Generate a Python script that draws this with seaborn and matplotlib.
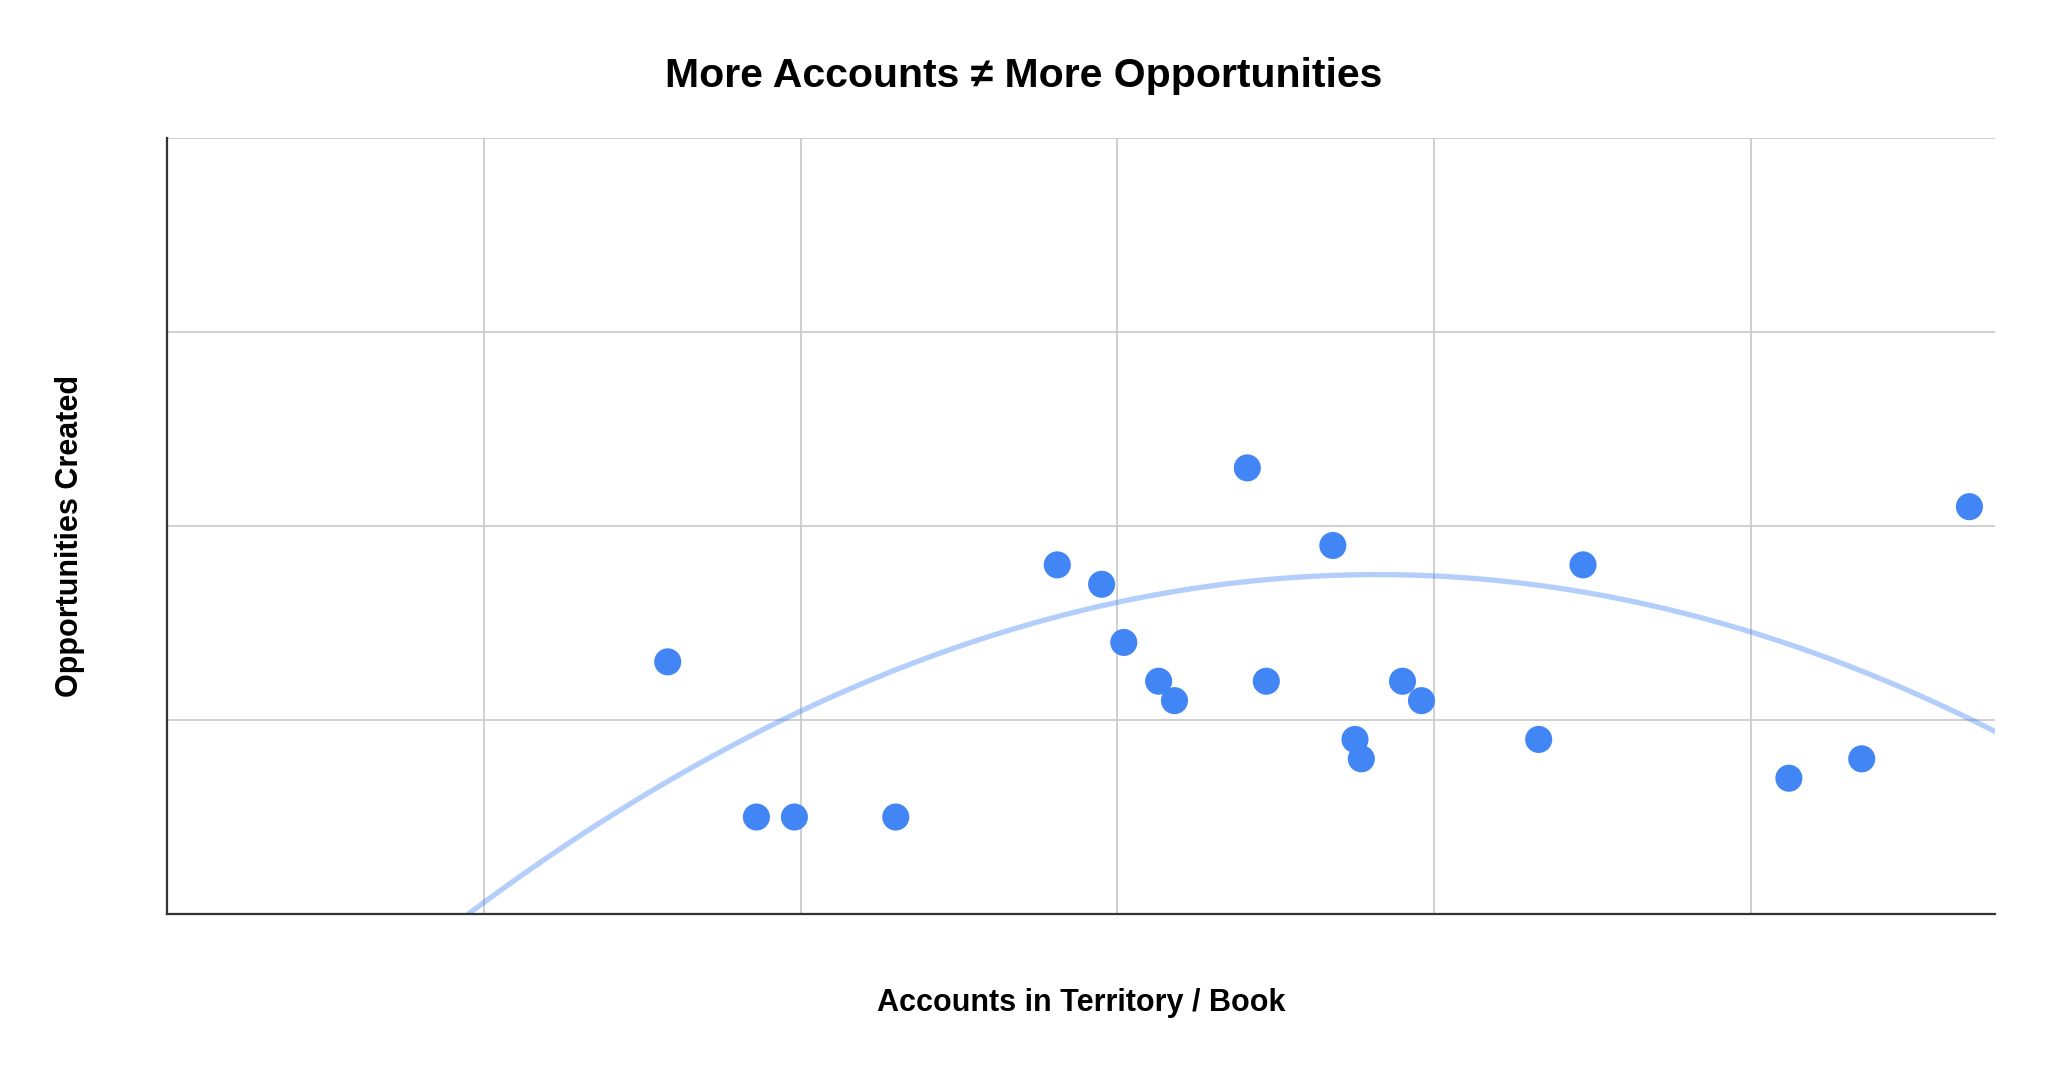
import numpy as np
import pandas as pd
import seaborn as sns
import matplotlib.pyplot as plt

# Data (accounts per book vs. opportunities created)
accounts = [158, 186, 198, 230, 281, 295, 302, 313, 318, 341, 347,
            368, 375, 377, 390, 396, 433, 447, 512, 535, 569]
opportunities = [13, 5, 5, 5, 18, 17, 14, 12, 11, 23, 12,
                 19, 9, 8, 12, 11, 9, 18, 7, 8, 21]
x_ticks = [0, 100, 200, 300, 400, 500]
y_ticks = [0, 10, 20, 30, 40]
# polynomial trendline (order 2) as shown on the chart: a*x^2 + b*x + c
trend_coef = [-2.125e-4, 0.16235, -13.51]

df = pd.DataFrame({'Accounts': accounts, 'Opportunities': opportunities})

sns.set_theme(style='white')
plt.rcParams['font.family'] = ['Liberation Sans', 'DejaVu Sans']

fig = plt.figure(figsize=(20.48, 10.71), dpi=100)
ax = fig.add_axes([0.0817, 0.1466, 0.8923, 0.7244])

x_min, x_max = 0, 577
trend_x = np.linspace(x_min, x_max, 300)
trend = pd.DataFrame({'Accounts': trend_x,
                      'Opportunities': np.polyval(trend_coef, trend_x)})

sns.lineplot(data=trend, x='Accounts', y='Opportunities', ax=ax,
             color='#4285F4', alpha=0.4, linewidth=3.8, zorder=2)
sns.scatterplot(data=df, x='Accounts', y='Opportunities', ax=ax,
                color='#4285F4', s=380, edgecolor='none', zorder=3)

ax.set_xlim(x_min, x_max)
ax.set_ylim(0, 40)
ax.set_xticks(x_ticks)
ax.set_yticks(y_ticks)
ax.set_xticklabels([])
ax.set_yticklabels([])
ax.tick_params(length=0)
ax.grid(True, color='#CCCCCC', linewidth=1.3)
ax.set_axisbelow(True)

for side in ['top', 'right']:
    ax.spines[side].set_visible(False)
for side in ['left', 'bottom']:
    ax.spines[side].set_color('#333333')
    ax.spines[side].set_linewidth(1.6)
    ax.spines[side].set_zorder(4)

ax.set_xlabel('Accounts in Territory / Book', fontsize=22, fontweight='bold',
              color='black', labelpad=50)
ax.set_ylabel('Opportunities Created', fontsize=22, fontweight='bold',
              color='black')
ax.yaxis.set_label_coords(-0.045, 0.487)
fig.text(0.5, 0.929, 'More Accounts \u2260 More Opportunities', ha='center',
         va='center', fontsize=29.5, fontweight='bold', color='black')

fig.savefig('out.png', dpi=100, facecolor='white')
